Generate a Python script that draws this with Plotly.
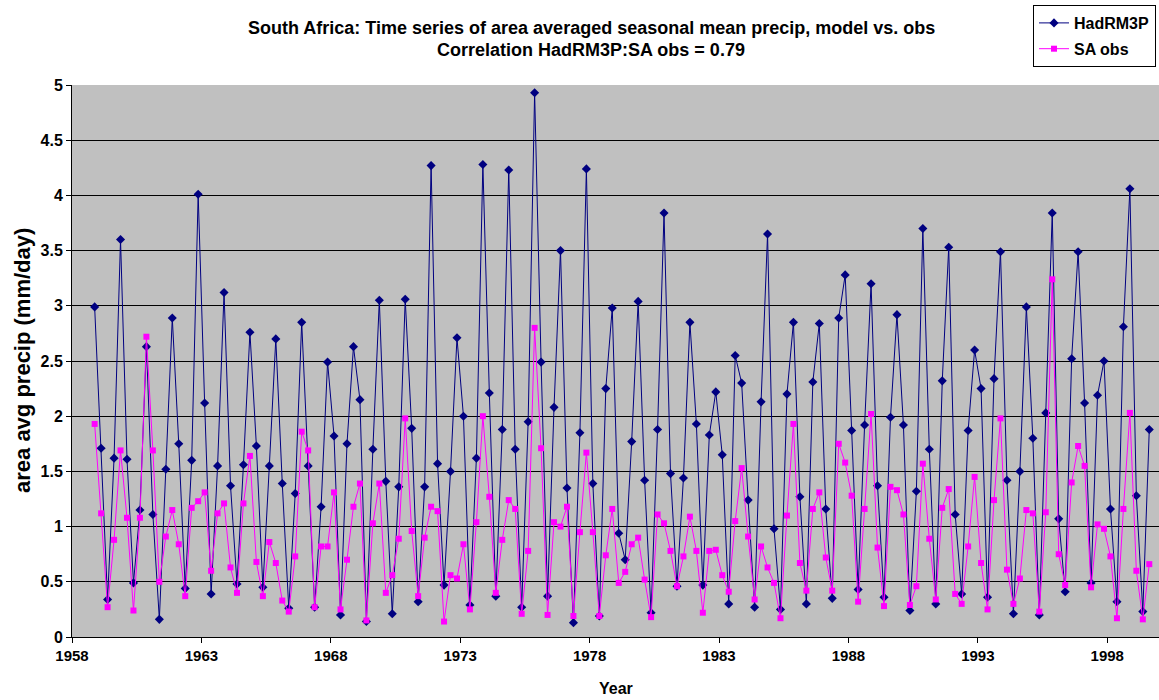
import numpy as np
import plotly.graph_objects as go

# Seasonal area-averaged precipitation (mm/day), consecutive seasons starting DJF 1958/59
hadrm3p = [
    2.99, 1.71, 0.34, 1.62, 3.60, 1.61, 0.49, 1.15, 2.63, 1.11, 0.16, 1.52, 2.89, 1.75, 0.44, 1.60,
    4.01, 2.12, 0.39, 1.55, 3.12, 1.37, 0.48, 1.56, 2.76, 1.73,
    0.45, 1.55, 2.70, 1.39, 0.26, 1.30, 2.85, 1.55, 0.27, 1.18, 2.49, 1.82, 0.20, 1.75, 2.63, 2.15,
    0.14, 1.70, 3.05, 1.41, 0.21, 1.36, 3.06, 1.89, 0.32, 1.36, 4.27, 1.57,
    0.47, 1.50, 2.71, 2.00, 0.29, 1.62, 4.28, 2.21, 0.37, 1.88, 4.23, 1.70, 0.27, 1.95, 4.93, 2.49,
    0.37, 2.08, 3.50, 1.35, 0.13, 1.85, 4.24, 1.39, 0.19, 2.25, 2.98, 0.94,
    0.70, 1.77, 3.04, 1.42, 0.22, 1.88, 3.84, 1.48, 0.46, 1.44, 2.85, 1.93, 0.47, 1.83, 2.22, 1.65,
    0.30, 2.55, 2.30, 1.24, 0.27, 2.13, 3.65, 0.98, 0.25, 2.20, 2.85, 1.27,
    0.30, 2.31, 2.84, 1.16, 0.35, 2.89, 3.28, 1.87, 0.43, 1.92, 3.20, 1.37, 0.36, 1.99, 2.92, 1.92,
    0.24, 1.32, 3.70, 1.70, 0.30, 2.32, 3.53, 1.11, 0.39, 1.87, 2.60, 2.25,
    0.36, 2.34, 3.49, 1.42, 0.21, 1.50, 2.99, 1.80, 0.20, 2.03, 3.84, 1.07, 0.41, 2.52, 3.49, 2.12,
    0.49, 2.19, 2.50, 1.16, 0.32, 2.81, 4.06, 1.28, 0.23, 1.88,
]

sa_obs = [
    1.93, 1.12, 0.27, 0.88, 1.69, 1.08, 0.24, 1.08, 2.72, 1.69, 0.50, 0.91, 1.15, 0.84, 0.37, 1.17,
    1.23, 1.31, 0.60, 1.12, 1.21, 0.63, 0.40, 1.21, 1.64, 0.68,
    0.37, 0.86, 0.67, 0.33, 0.23, 0.73, 1.86, 1.69, 0.27, 0.82, 0.82, 1.31, 0.25, 0.70, 1.18, 1.39,
    0.15, 1.03, 1.39, 0.40, 0.56, 0.89, 1.98, 0.96, 0.37, 0.90, 1.18, 1.14,
    0.14, 0.56, 0.53, 0.84, 0.25, 1.04, 2.00, 1.27, 0.40, 0.88, 1.24, 1.16, 0.21, 0.78, 2.80, 1.71,
    0.20, 1.04, 1.00, 1.18, 0.19, 0.95, 1.67, 0.95, 0.19, 0.74, 1.16, 0.49,
    0.59, 0.84, 0.90, 0.52, 0.18, 1.11, 1.03, 0.78, 0.46, 0.73, 1.09, 0.78, 0.22, 0.78, 0.79, 0.56,
    0.41, 1.05, 1.53, 0.91, 0.34, 0.82, 0.63, 0.49, 0.17, 1.10, 1.93, 0.67,
    0.42, 1.16, 1.31, 0.72, 0.42, 1.75, 1.58, 1.28, 0.32, 1.16, 2.02, 0.81, 0.28, 1.36, 1.33, 1.11,
    0.29, 0.46, 1.57, 0.89, 0.34, 1.17, 1.34, 0.39, 0.30, 0.82, 1.45, 0.67,
    0.25, 1.24, 1.98, 0.61, 0.30, 0.53, 1.15, 1.12, 0.23, 1.13, 3.24, 0.75, 0.47, 1.40, 1.73, 1.55,
    0.45, 1.02, 0.98, 0.73, 0.17, 1.16, 2.03, 0.60, 0.16, 0.66,
]

# Time coordinate: four seasons per year, first season centred at 1958.875
first_season = 1958.875
season_step = 0.25
years = first_season + season_step * np.arange(len(hadrm3p))

year_ticks = [1958, 1963, 1968, 1973, 1978, 1983, 1988, 1993, 1998]

FONT = "Arial, Liberation Sans, sans-serif"
W, H = 1159, 700
ML, MR, MT, MB = 72, 0, 85, 63
plot_w = W - ML - MR
plot_h = H - MT - MB


def px_x(px):
    return (px - ML) / plot_w


def px_y(py):
    return 1 - (py - MT) / plot_h


fig = go.Figure()
fig.add_trace(go.Scatter(
    x=years, y=hadrm3p, name="HadRM3P", mode="lines+markers",
    line=dict(color="#000080", width=1),
    marker=dict(symbol="diamond", size=7, color="#000080"),
    legendgroup="a",
))
fig.add_trace(go.Scatter(
    x=years, y=sa_obs, name="SA obs", mode="lines+markers",
    line=dict(color="#FF00FF", width=1),
    marker=dict(symbol="square", size=6, color="#FF00FF"),
    legendgroup="b",
))

fig.update_layout(
    width=W, height=H,
    margin=dict(l=ML, r=MR, t=MT, b=MB, autoexpand=False),
    paper_bgcolor="white",
    plot_bgcolor="#C0C0C0",
    font=dict(family=FONT, color="black"),
    showlegend=True,
    legend=dict(
        xref="container", yref="container",
        x=1033 / W, y=1 - 5 / H, xanchor="left", yanchor="top",
        bgcolor="white", bordercolor="black", borderwidth=1,
        font=dict(family=FONT, size=16, weight="bold"),
        tracegroupgap=2, itemwidth=30,
    ),
    xaxis=dict(
        range=[1958, 2000],
        tickmode="array", tickvals=year_ticks,
        ticks="outside", ticklen=5, tickcolor="black",
        showgrid=False, zeroline=False,
        showline=True, linecolor="black", linewidth=1,
        tickfont=dict(family=FONT, size=15, weight="bold"),
    ),
    yaxis=dict(
        range=[0, 5], dtick=0.5,
        ticks="outside", ticklen=5, tickcolor="black",
        showgrid=True, gridcolor="black", gridwidth=1,
        zeroline=False,
        showline=True, linecolor="black", linewidth=1,
        tickfont=dict(family=FONT, size=16, weight="bold"),
    ),
)

# Two-line chart title
for text, ypix in [
    ("South Africa: Time series of area averaged seasonal mean precip, model vs. obs", 28),
    ("Correlation HadRM3P:SA obs = 0.79", 50),
]:
    fig.add_annotation(
        text=text, xref="paper", yref="paper",
        x=px_x(591), y=px_y(ypix),
        showarrow=False, xanchor="center", yanchor="middle",
        font=dict(family=FONT, size=18, weight="bold"),
    )

# Axis titles
fig.add_annotation(
    text="area avg precip (mm/day)", xref="paper", yref="paper",
    x=px_x(22), y=px_y(361), textangle=-90,
    showarrow=False, xanchor="center", yanchor="middle",
    font=dict(family=FONT, size=22, weight="bold"),
)
fig.add_annotation(
    text="Year", xref="paper", yref="paper",
    x=px_x(616), y=px_y(688),
    showarrow=False, xanchor="center", yanchor="middle",
    font=dict(family=FONT, size=16, weight="bold"),
)

fig.write_html("out.html")
